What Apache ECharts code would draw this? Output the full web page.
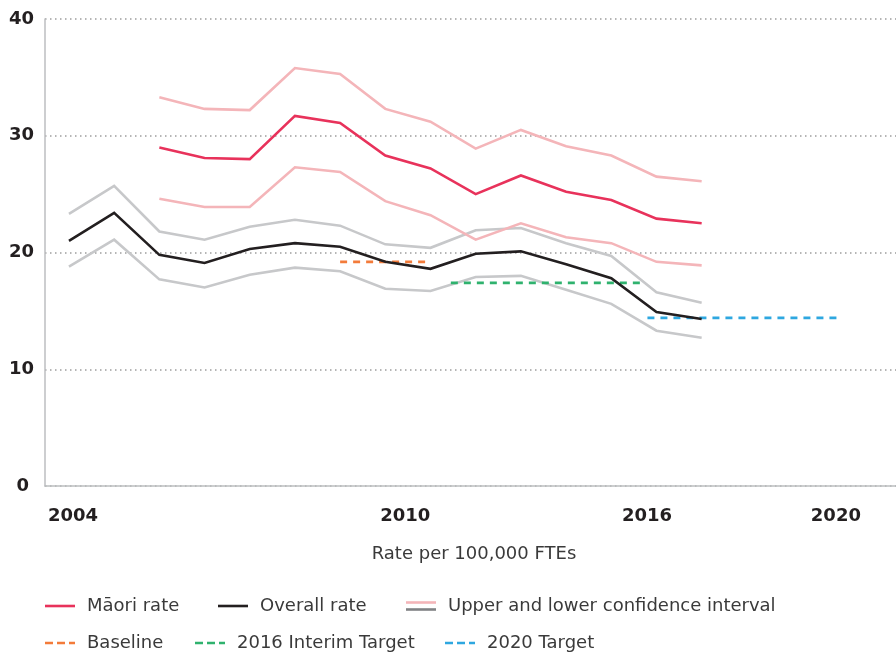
<!DOCTYPE html>
<html>
<head>
<meta charset="utf-8">
<script src="https://cdn.jsdelivr.net/npm/echarts@6/dist/echarts.min.js"></script>
<style>
  html, body { margin: 0; padding: 0; background: #fff; }
  #chart { width: 896px; height: 655px; }
</style>
</head>
<body>
<div id="chart"></div>
<script>
// Rates per 100,000 FTEs, 2004-2018
const years = [2004, 2005, 2006, 2007, 2008, 2009, 2010, 2011, 2012, 2013, 2014, 2015, 2016, 2017, 2018];
const overallRate  = [21.0, 23.4, 19.8, 19.1, 20.3, 20.8, 20.5, 19.2, 18.6, 19.9, 20.1, 19.0, 17.8, 14.9, 14.3];
const overallUpper = [23.3, 25.7, 21.8, 21.1, 22.2, 22.8, 22.3, 20.7, 20.4, 21.9, 22.1, 20.8, 19.7, 16.6, 15.7];
const overallLower = [18.8, 21.1, 17.7, 17.0, 18.1, 18.7, 18.4, 16.9, 16.7, 17.9, 18.0, 16.8, 15.6, 13.3, 12.7];
const maoriRate    = [null, null, 29.0, 28.1, 28.0, 31.7, 31.1, 28.3, 27.2, 25.0, 26.6, 25.2, 24.5, 22.9, 22.5];
const maoriUpper   = [null, null, 33.3, 32.3, 32.2, 35.8, 35.3, 32.3, 31.2, 28.9, 30.5, 29.1, 28.3, 26.5, 26.1];
const maoriLower   = [null, null, 24.6, 23.9, 23.9, 27.3, 26.9, 24.4, 23.2, 21.1, 22.5, 21.3, 20.8, 19.2, 18.9];

// Target levels and the spans over which they are drawn
const baseline      = { value: 19.2, from: 2010,    to: 2012 };
const interimTarget = { value: 17.4, from: 2012.45, to: 2016.7 };
const finalTarget   = { value: 14.4, from: 2016.8,  to: 2021 };

// Year labels along the bottom axis
const xTickLabels = ['2004', '2010', '2016', '2020'];
const xTickAt     = [2004.09, 2011.44, 2016.79, 2020.97];
const yTicks = [0, 10, 20, 30, 40];

const TICK_FONT = '"DejaVu Sans", sans-serif';
const TEXT_FONT = '"DejaVu Sans", sans-serif';
const C = {
  maori: '#e8325b',
  maoriCI: '#f4b5b9',
  overall: '#231f20',
  overallCI: '#c7c8ca',
  ciKey: '#808285',
  baseline: '#f37b3a',
  interim: '#2fb26e',
  final: '#2ea7e0',
  axis: '#bcbec0',
  grid: '#9d9d9d',
  text: '#231f20',
  legendText: '#3a3a3a'
};

const pairs = (xs, ys) => xs.map((x, i) => [x, ys[i]]);
const span = t => [[t.from, t.value], [t.to, t.value]];

const CI_NAME = 'Upper and lower confidence interval';

// Legend keys drawn as small inline SVGs
function svgIcon(body) {
  const svg = '<svg xmlns="http://www.w3.org/2000/svg" width="30" height="12">' + body + '</svg>';
  return 'image://data:image/svg+xml;charset=utf-8,' + encodeURIComponent(svg);
}
const solidKey = color => svgIcon('<line x1="0" y1="6" x2="30" y2="6" stroke="' + color + '" stroke-width="2.6"/>');
const dashKey = color => svgIcon('<line x1="0" y1="6" x2="30" y2="6" stroke="' + color + '" stroke-width="2.6" stroke-dasharray="8 4"/>');
const ciKey = svgIcon(
  '<line x1="0" y1="2.5" x2="30" y2="2.5" stroke="' + C.maoriCI + '" stroke-width="2.6"/>' +
  '<line x1="0" y1="9.5" x2="30" y2="9.5" stroke="' + C.ciKey + '" stroke-width="2.6"/>'
);

function lineSeries(name, data, color, extra) {
  return Object.assign({
    name: name,
    type: 'line',
    data: data,
    symbol: 'none',
    connectNulls: false,
    lineStyle: { color: color, width: 2.6, join: 'miter' },
    itemStyle: { color: color },
    emphasis: { disabled: true },
    silent: true,
    animation: false
  }, extra || {});
}

function dashed(name, t, color) {
  return lineSeries(name, span(t), color, {
    lineStyle: { color: color, width: 2.6, type: [7, 6] }
  });
}

function legendItem(name, left, top, icon) {
  return {
    data: [{ name: name, icon: icon }],
    left: left,
    top: top,
    padding: 0,
    itemWidth: 30,
    itemHeight: 12,
    selectedMode: false,
    textStyle: { fontFamily: TEXT_FONT, fontSize: 18, color: C.legendText, padding: [0, 0, 0, 7], lineHeight: 20 }
  };
}

const chart = echarts.init(document.getElementById('chart'), null, { renderer: 'canvas' });

chart.setOption({
  backgroundColor: '#fff',
  animation: false,
  grid: { left: 45, right: 0, top: 19, bottom: 169, containLabel: false },
  xAxis: {
    type: 'value',
    min: 2003.47,
    max: 2022.3,
    name: 'Rate per 100,000 FTEs',
    nameLocation: 'middle',
    nameGap: 59,
    nameTextStyle: { fontFamily: TEXT_FONT, fontSize: 18, color: C.legendText, padding: [0, 0, 0, 7] },
    axisLine: { show: true, lineStyle: { color: C.axis, width: 1.5 } },
    axisTick: { show: false },
    splitLine: { show: false },
    axisLabel: {
      customValues: xTickAt,
      margin: 21,
      fontFamily: TICK_FONT,
      fontSize: 18,
      fontWeight: 'bold',
      color: C.text,
      formatter: function (v) {
        let best = 0;
        xTickAt.forEach((p, i) => { if (Math.abs(p - v) < Math.abs(xTickAt[best] - v)) best = i; });
        return xTickLabels[best];
      }
    }
  },
  yAxis: {
    type: 'value',
    min: yTicks[0],
    max: yTicks[yTicks.length - 1],
    interval: 10,
    axisLine: { show: true, lineStyle: { color: C.axis, width: 1.5 } },
    axisTick: { show: false },
    splitLine: { show: true, lineStyle: { color: C.grid, width: 1.5, type: [1.5, 3.5] } },
    axisLabel: {
      margin: 11,
      fontFamily: TICK_FONT,
      fontSize: 18,
      fontWeight: 'bold',
      color: C.text,
      formatter: v => (v === 0 ? '{z|0}' : String(v)),
      rich: {
        z: { fontFamily: TICK_FONT, fontSize: 18, fontWeight: 'bold', color: C.text, padding: [0, 5, 0, 0] }
      }
    }
  },
  legend: [
    legendItem('Māori rate', 45, 596, solidKey(C.maori)),
    legendItem('Overall rate', 218, 596, solidKey(C.overall)),
    legendItem(CI_NAME, 406, 596, ciKey),
    legendItem('Baseline', 45, 633, dashKey(C.baseline)),
    legendItem('2016 Interim Target', 195, 633, dashKey(C.interim)),
    legendItem('2020 Target', 445, 633, dashKey(C.final))
  ],
  series: [
    lineSeries(CI_NAME, pairs(years, overallUpper), C.overallCI),
    lineSeries(CI_NAME, pairs(years, overallLower), C.overallCI),
    lineSeries(CI_NAME, pairs(years, maoriUpper), C.maoriCI),
    lineSeries(CI_NAME, pairs(years, maoriLower), C.maoriCI),
    dashed('Baseline', baseline, C.baseline),
    dashed('2016 Interim Target', interimTarget, C.interim),
    dashed('2020 Target', finalTarget, C.final),
    lineSeries('Overall rate', pairs(years, overallRate), C.overall),
    lineSeries('Māori rate', pairs(years, maoriRate), C.maori)
  ]
});
</script>
</body>
</html>
